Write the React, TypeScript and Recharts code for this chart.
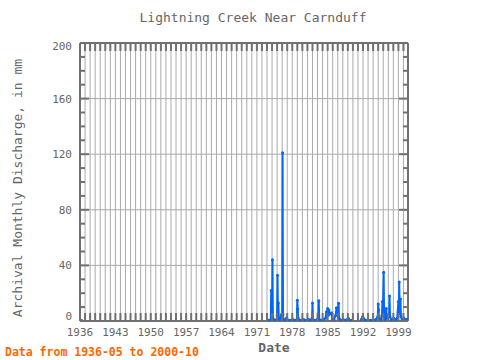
import React from 'react';
import { LineChart, Line, XAxis, YAxis, CartesianGrid } from 'recharts';

// Monthly discharge samples (YYYY-MM) and values in mm; null marks a gap in the record
const months: string[] = [
  '1936-05', '1950-01',
  '1973-04', '1973-08', '1973-10', '1973-11', '1973-12', '1974-01', '1974-02', '1974-03', '1974-06', '1974-10', '1974-12',
  '1975-01', '1975-02', '1975-03', '1975-04', '1975-05', '1975-08', '1975-11', '1975-12',
  '1976-01', '1976-02', '1976-03', '1976-04', '1976-07', '1976-11',
  '1977-01', '1977-04', '1977-10', '1978-02', '1978-06', '1978-12',
  '1979-01', '1979-02', '1979-03', '1979-04', '1979-10', '1980-04', '1980-10', '1981-04', '1981-10', '1981-12',
  '1982-01', '1982-02', '1982-06', '1982-12', '1983-03', '1983-04', '1983-05', '1983-09',
  '1984-03', '1984-08', '1984-10', '1984-11', '1985-01', '1985-02', '1985-04', '1985-06', '1985-10', '1985-12',
  '1986-04', '1986-08', '1986-10', '1986-12', '1987-03', '1987-04', '1987-08', '1988-02', '1988-08',
  '1989-02', '1989-04', '1989-09', '1990-06',
  '1991-09', '1991-12', '1992-02', '1992-07', '1993-01', '1993-07', '1994-01', '1994-07', '1994-12',
  '1995-01', '1995-02', '1995-03', '1995-07', '1995-10', '1995-11', '1995-12',
  '1996-02', '1996-03', '1996-05', '1996-08', '1996-09', '1997-01', '1997-03', '1997-04', '1997-05', '1997-08',
  '1998-02', '1998-06', '1998-10', '1999-01', '1999-02', '1999-03', '1999-04', '1999-06', '1999-07', '1999-10',
  '2000-02', '2000-06', '2000-10',
];

const discharge: (number | null)[] = [
  0.3, null,
  0.5, 0.5, 0.5, 22, 1, 3, 44, 2, 0.5, 0.5, 1,
  4, 33, 3, 13, 2, 0.5, 4, 5,
  2, 121, 5, 1, 0.5, 2,
  1, 0.5, 0.5, 1, 0.5, 1,
  15, 8.6, 2, 0.5, 0.5, 1, 0.5, 1, 0.5, 2,
  13, 1, 0.5, 1, 2, 14.6, 1, 0.5,
  1, 2, 6.7, 3, 9, 4, 8, 5, 5.8, 1,
  1, 4, 9.6, 5, 12.7, 2, 0.5, 1, 0.5,
  2, 0.5, 0.5, null,
  1, 3, 2, 0.5, 0.5, 0.5, 0.5, 1, 3,
  12.2, 8, 2, 1, 4, 14, 5,
  35, 6, 1, 9, 2, 3, 5, 18, 3, 1,
  2, 1, 2, 14, 5, 28, 6, 15.8, 3, 1,
  2, 1, 1,
];

const labelYears: number[] = [1936, 1943, 1950, 1957, 1964, 1971, 1978, 1985, 1992, 1999];
const yTickValues: number[] = [0, 10, 20, 30, 40, 50, 60, 70, 80, 90, 100, 110, 120, 130, 140, 150, 160, 170, 180, 190, 200];
const yLabelValues: number[] = [0, 40, 80, 120, 160, 200];
const yGridValues: number[] = [40, 80, 120, 160];

const yearTicks: number[] = [];
for (let y = 1936; y <= 2000; y++) yearTicks.push(y);

const toYear = (m: string) => {
  const [y, mo] = m.split('-').map(Number);
  return y + (mo - 1) / 12;
};

const data = months.map((m, i) => ({ t: toYear(m), v: discharge[i] }));

const AXIS = '#707070';
const TXT = '#666666';
const FONT = '"DejaVu Sans Mono", monospace';
const BLUE = '#0066ff';

const BottomTick = (props: any) => {
  const { x, y, payload } = props;
  const show = labelYears.includes(payload.value);
  return (
    <g>
      <line x1={x} x2={x} y1={y} y2={y - 8} stroke={AXIS} strokeWidth={2} />
      {show && (
        <text x={x} y={y + 15} textAnchor="middle" fontFamily={FONT} fontSize={11} fill={TXT}>
          {payload.value}
        </text>
      )}
    </g>
  );
};

const TopTick = (props: any) => {
  const { x, y } = props;
  return <line x1={x} x2={x} y1={y} y2={y + 8} stroke={AXIS} strokeWidth={2} />;
};

const LeftTick = (props: any) => {
  const { x, y, payload } = props;
  const v = payload.value;
  const major = v % 40 === 0;
  const dy = v === 0 ? -1 : v === 200 ? 7 : 4;
  return (
    <g>
      <line x1={x} x2={x + (major ? 9 : 5)} y1={y} y2={y} stroke={AXIS} strokeWidth={2} />
      {major && (
        <text x={x - 8} y={y + dy} textAnchor="end" fontFamily={FONT} fontSize={11} fill={TXT}>
          {v}
        </text>
      )}
    </g>
  );
};

const RightTick = (props: any) => {
  const { x, y, payload } = props;
  const major = payload.value % 40 === 0;
  return <line x1={x} x2={x - (major ? 9 : 5)} y1={y} y2={y} stroke={AXIS} strokeWidth={2} />;
};

export default function App() {
  return (
    <div style={{ position: 'absolute', left: 0, top: 0, width: 480, height: 360, background: '#fff' }}>
      <LineChart
        width={480}
        height={360}
        data={data}
        margin={{ top: 38, right: 60, bottom: 9, left: 0 }}
      >
        <CartesianGrid
          stroke="#aaaaaa"
          strokeWidth={1}
          horizontalValues={yGridValues}
          verticalValues={yearTicks}
        />
        <XAxis
          dataKey="t"
          type="number"
          domain={[1936, 2000.9]}
          allowDataOverflow
          ticks={yearTicks}
          interval={0}
          tickSize={0}
          tickMargin={0}
          tickLine={false}
          height={30}
          tick={<BottomTick />}
          axisLine={{ stroke: AXIS, strokeWidth: 2 }}
        />
        <XAxis
          xAxisId="top"
          orientation="top"
          dataKey="t"
          type="number"
          domain={[1936, 2000.9]}
          allowDataOverflow
          ticks={yearTicks}
          interval={0}
          tickSize={0}
          tickMargin={0}
          tickLine={false}
          height={5}
          tick={<TopTick />}
          axisLine={{ stroke: AXIS, strokeWidth: 2 }}
        />
        <YAxis
          type="number"
          domain={[0, 200]}
          allowDataOverflow
          ticks={yTickValues}
          interval={0}
          tickSize={0}
          tickMargin={0}
          tickLine={false}
          width={80}
          tick={<LeftTick />}
          axisLine={{ stroke: AXIS, strokeWidth: 2 }}
        />
        <YAxis
          yAxisId="right"
          orientation="right"
          type="number"
          domain={[0, 200]}
          allowDataOverflow
          ticks={yTickValues}
          interval={0}
          tickSize={0}
          tickMargin={0}
          tickLine={false}
          width={12}
          tick={<RightTick />}
          axisLine={{ stroke: AXIS, strokeWidth: 2 }}
        />
        <Line
          dataKey="v"
          stroke={BLUE}
          strokeWidth={2}
          connectNulls={false}
          dot={{ r: 1.5, fill: BLUE, stroke: 'none' }}
          isAnimationActive={false}
        />
        <Line
          xAxisId="top"
          yAxisId="right"
          dataKey="v"
          stroke="none"
          dot={false}
          legendType="none"
          isAnimationActive={false}
        />
      </LineChart>
      <svg
        width={480}
        height={360}
        style={{ position: 'absolute', left: 0, top: 0, pointerEvents: 'none' }}
      >
        <text x={253} y={22} textAnchor="middle" fontFamily={FONT} fontSize={13} fill={TXT}>
          Lightning Creek Near Carnduff
        </text>
        <text
          x={22}
          y={188}
          transform="rotate(-90 22 188)"
          textAnchor="middle"
          fontFamily={FONT}
          fontSize={13}
          fill={TXT}
        >
          Archival Monthly Discharge, in mm
        </text>
        <text x={274} y={352} textAnchor="middle" fontFamily={FONT} fontSize={13} fontWeight="bold" fill={TXT}>
          Date
        </text>
        <text x={5} y={356} fontFamily={FONT} fontSize={11.5} fontWeight="bold" fill="#ff6600">
          Data from 1936-05 to 2000-10
        </text>
      </svg>
    </div>
  );
}
